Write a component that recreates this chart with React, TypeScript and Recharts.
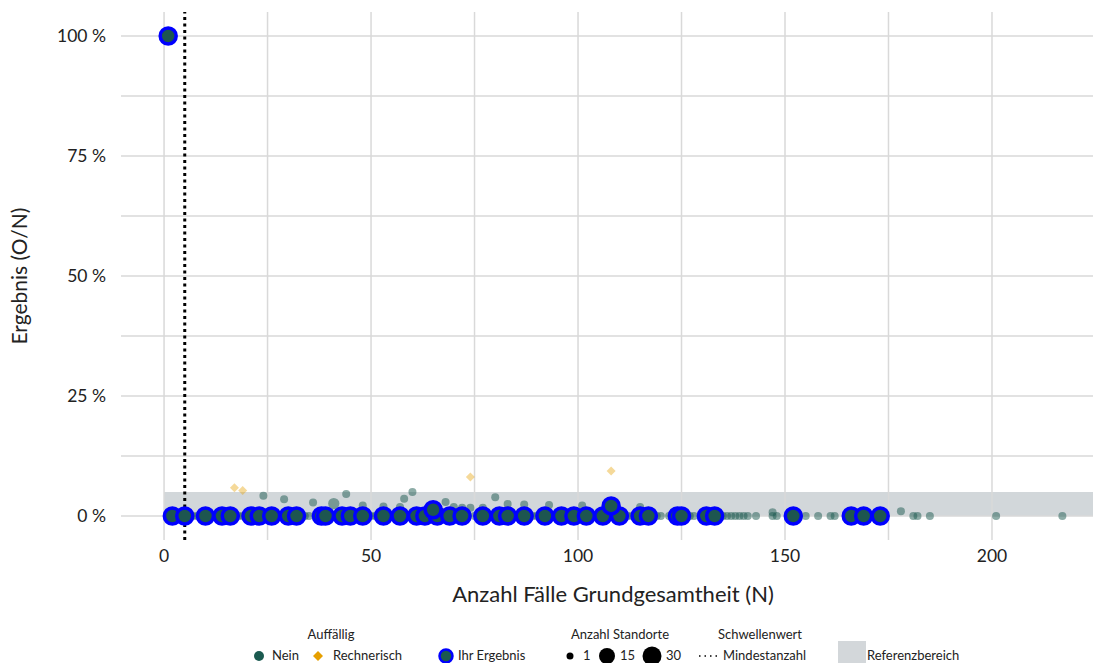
import { ReferenceArea, ReferenceLine, Scatter, ScatterChart, XAxis, YAxis } from "recharts";

const xTicks = [0, 25, 50, 75, 100, 125, 150, 175, 200];
const yTicks = [0, 12.5, 25, 37.5, 50, 62.5, 75, 87.5, 100];

// other sites, result 0 %
const otherZeroN = [
  1, 2, 3, 4, 5, 6, 7, 8, 9, 10, 11, 12, 13, 14, 15, 16, 17, 18, 19, 20, 21, 22, 23, 25, 26, 27, 28, 30, 31, 33,
  34, 35, 37, 38, 40, 42, 43, 45, 46, 47, 49, 50, 51, 52, 54, 55, 56, 59, 61, 62, 63, 65, 66, 67, 69, 71, 73, 75,
  76, 78, 79, 81, 82, 84, 85, 86, 88, 89, 90, 92, 94, 95, 97, 98, 100, 103, 104, 106, 109, 111, 112, 113, 116,
  118, 119, 120, 122, 123, 126, 127, 128, 130, 134, 135, 136, 137, 138, 139, 140, 141, 143, 147, 148, 155, 158,
  161, 162, 181, 182, 185, 201, 217
];

// other sites above 0 %: N, result in %, Anzahl Standorte
const otherRaised = [
  { x: 24, y: 4.2, n: 1 },
  { x: 29, y: 3.5, n: 1 },
  { x: 36, y: 2.8, n: 1 },
  { x: 41, y: 2.6, n: 4 },
  { x: 44, y: 4.6, n: 1 },
  { x: 48, y: 2.2, n: 1 },
  { x: 53, y: 2.0, n: 1 },
  { x: 57, y: 1.9, n: 1 },
  { x: 58, y: 3.6, n: 1 },
  { x: 60, y: 5.0, n: 1 },
  { x: 68, y: 2.9, n: 1 },
  { x: 70, y: 1.9, n: 1 },
  { x: 72, y: 1.7, n: 1 },
  { x: 74, y: 1.7, n: 1 },
  { x: 77, y: 1.7, n: 1 },
  { x: 80, y: 3.9, n: 1 },
  { x: 83, y: 2.5, n: 1 },
  { x: 87, y: 2.4, n: 1 },
  { x: 93, y: 2.3, n: 1 },
  { x: 101, y: 2.2, n: 1 },
  { x: 115, y: 1.9, n: 1 },
  { x: 147, y: 0.8, n: 1 },
  { x: 178, y: 1.0, n: 1 }
];

const rechnerisch = [
  { x: 17, y: 5.9 },
  { x: 19, y: 5.3 },
  { x: 74, y: 8.1 },
  { x: 108, y: 9.4 }
];

const ihrZeroN = [
  2, 5, 10, 14, 16, 21, 23, 26, 30, 32, 38, 39, 43, 45, 48, 53, 57, 61, 63, 66, 69, 72, 77, 81, 83, 87, 92, 96,
  99, 102, 106, 110, 115, 117, 124, 125, 131, 133, 152, 166, 169, 173
];
const ihrRaised = [
  { x: 1, y: 100 },
  { x: 65, y: 1.3 },
  { x: 108, y: 2.1 }
];

const others = [...otherZeroN.map((x) => ({ x, y: 0, n: 1 })), ...otherRaised];
const ihr = [...ihrZeroN.map((x) => ({ x, y: 0 })), ...ihrRaised];

const font = "Lato, 'Noto Sans', sans-serif";
const green = "#1b5a50";
const gridColor = "#d9d9d9";

const OtherDot = (props: any) => {
  const r = 4 + 5 * Math.sqrt((props.payload.n - 1) / 29);
  return <circle cx={props.cx} cy={props.cy} r={r} fill={green} fillOpacity={0.5} />;
};

const Diamond = (props: any) => {
  const { cx, cy } = props;
  const s = 4.5;
  return <path d={`M${cx},${cy - s}L${cx + s},${cy}L${cx},${cy + s}L${cx - s},${cy}Z`} fill="#e69f00" fillOpacity={0.4} />;
};

const IhrDot = (props: any) => (
  <circle cx={props.cx} cy={props.cy} r={8} fill="#1d5650" stroke="#0000ff" strokeWidth={3.5} />
);

export default function App() {
  return (
    <div style={{ position: "absolute", left: 0, top: 0, width: 1093, height: 663, background: "#fff", fontFamily: font }}>
      <ScatterChart width={1093} height={663} margin={{ top: 12, right: 0, bottom: 33, left: 0 }}>
        <XAxis
          type="number"
          dataKey="x"
          domain={[-10.4, 224.4]}
          ticks={xTicks}
          allowDataOverflow
          tickFormatter={(v) => (v % 50 === 0 ? String(v) : "")}
          axisLine={false}
          tickLine={false}
          tickSize={0}
          tickMargin={10}
          height={90}
          tick={{ fill: "#222", fontSize: 17.5, fontFamily: font }}
        />
        <YAxis
          type="number"
          dataKey="y"
          domain={[-5, 105]}
          ticks={yTicks}
          allowDataOverflow
          tickFormatter={(v) => (v % 25 === 0 ? `${v} %` : "")}
          axisLine={false}
          tickLine={false}
          tickSize={0}
          tickMargin={15}
          width={121}
          tick={{ fill: "#222", fontSize: 17.5, fontFamily: font }}
        />
        {xTicks.map((t) => (
          <ReferenceLine key={`gx${t}`} x={t} stroke={gridColor} strokeWidth={1.5} />
        ))}
        {yTicks.map((t) => (
          <ReferenceLine key={`gy${t}`} y={t} stroke={gridColor} strokeWidth={1.5} />
        ))}
        <ReferenceArea x1={0} x2={224.4} y1={0} y2={5} fill="#bfc6cb" fillOpacity={0.7} stroke="none" />
        <ReferenceLine x={5} stroke="#000" strokeWidth={3} strokeDasharray="3 3.5" />
        <Scatter data={others} shape={OtherDot} isAnimationActive={false} />
        <Scatter data={rechnerisch} shape={Diamond} isAnimationActive={false} />
        <Scatter data={ihr} shape={IhrDot} isAnimationActive={false} />
      </ScatterChart>

      <svg width={1093} height={663} style={{ position: "absolute", left: 0, top: 0, pointerEvents: "none" }} fontFamily={font}>
        <text x={18} y={276} transform="rotate(-90 18 276)" textAnchor="middle" dominantBaseline="central" fontSize={21} fill="#222">
          Ergebnis (O/N)
        </text>
        <text x={613} y={593} textAnchor="middle" dominantBaseline="central" fontSize={22} fill="#222">
          Anzahl Fälle Grundgesamtheit (N)
        </text>

        <g fontSize={13} fill="#222">
          <text x={331} y={639} textAnchor="middle">Auffällig</text>
          <circle cx={259} cy={656} r={5} fill={green} />
          <text x={272} y={660}>Nein</text>
          <path d="M318,651L323,656L318,661L313,656Z" fill="#e69f00" />
          <text x={333} y={660}>Rechnerisch</text>
          <circle cx={446} cy={656} r={6.5} fill={green} stroke="#0000ff" strokeWidth={2.5} />
          <text x={458} y={660}>Ihr Ergebnis</text>

          <text x={620} y={639} textAnchor="middle">Anzahl Standorte</text>
          <circle cx={570} cy={656} r={3.5} fill="#000" />
          <text x={583} y={660}>1</text>
          <circle cx={607} cy={656} r={8} fill="#000" />
          <text x={620} y={660}>15</text>
          <circle cx={652} cy={656} r={9.5} fill="#000" />
          <text x={666} y={660}>30</text>

          <text x={760} y={639} textAnchor="middle">Schwellenwert</text>
          <line x1={699} y1={656} x2={719} y2={656} stroke="#000" strokeWidth={1.5} strokeDasharray="1.5 4" />
          <text x={723} y={660}>Mindestanzahl</text>

          <rect x={838} y={641} width={28} height={22} fill="#d3d7da" />
          <text x={867} y={660}>Referenzbereich</text>
        </g>
      </svg>
    </div>
  );
}
